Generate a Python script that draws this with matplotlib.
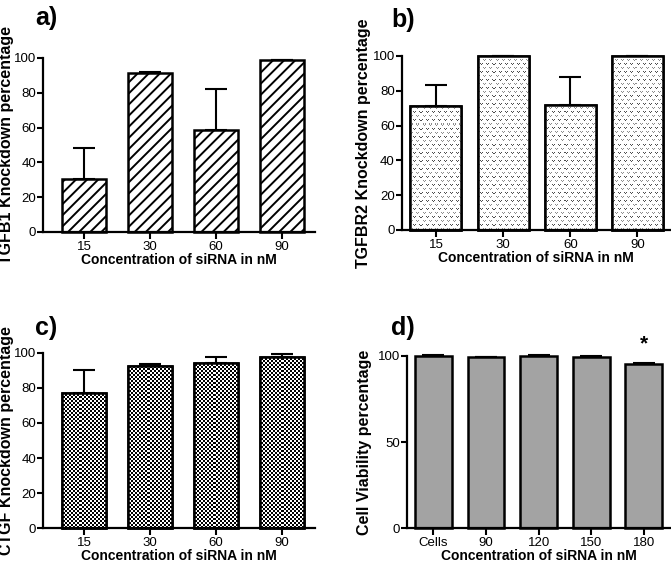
from matplotlib import pyplot as plt
import numpy as np

plt.rcParams['font.family'] = ['Liberation Sans', 'DejaVu Sans']
plt.rcParams['hatch.linewidth'] = 1.4

# data
conc_labels = ['15', '30', '60', '90']
tgfb1_vals = [30.5, 91.5, 58.5, 98.8]
tgfb1_err = [17.8, 0.6, 23.8, 0.3]
tgfbr2_vals = [71.5, 100, 72, 100]
tgfbr2_err = [12, 0, 16, 0]
ctgf_vals = [76.8, 92.4, 94.2, 97.5]
ctgf_err = [13.3, 1.2, 3.2, 1.7]
via_labels = ['Cells', '90', '120', '150', '180']
via_vals = [100, 99.2, 100.2, 99.5, 95.5]
via_err = [0.3, 0.5, 0.3, 0.4, 0.4]

W, H = 671, 565
fig = plt.figure(figsize=(W / 100, H / 100), dpi=100)


def checker_tile(h, w):
    yy, xx = np.mgrid[0:h, 0:w]
    return np.where(((yy // 2) + (xx // 2)) % 2 == 0, 0.0, 1.0)


def dots_tile(h, w):
    img = np.ones((h, w))
    for r in range(0, h - 1, 4):
        off = 0 if (r // 4) % 2 == 0 else 3
        for c in range(off, w - 2, 6):
            shade = 0.3 if (r // 4) % 2 == 0 else 0.55
            img[r, c] = shade
            img[r, c + 2] = shade
            img[r + 1, c + 1] = shade
    return img


def make_axes(rect, xlim, ylim, yticks, labels, ylabel, ylabel_x):
    ax = fig.add_axes(rect)
    ax.set_xlim(*xlim)
    ax.set_ylim(*ylim)
    ax.set_yticks(yticks)
    ax.set_xticks(range(len(labels)))
    ax.set_xticklabels(labels)
    for side in ['top', 'right']:
        ax.spines[side].set_visible(False)
    for side in ['left', 'bottom']:
        ax.spines[side].set_linewidth(1.6)
    ax.tick_params(axis='y', width=1.5, length=4, labelsize=9.5, pad=1)
    ax.tick_params(axis='x', width=1.5, length=5, labelsize=9.5, pad=1.5)
    ax.set_xlabel('Concentration of siRNA in nM', fontsize=10, fontweight='bold', labelpad=0)
    ax.set_ylabel(ylabel, fontsize=11.5, fontweight='bold')
    ax.yaxis.set_label_coords(ylabel_x, 0.5)
    ax.patch.set_alpha(0)
    return ax


def draw_bars(ax, vals, err, width, face='white', hatch=None, pattern=None, rect=None):
    x = np.arange(len(vals))
    ax.errorbar(x, vals, yerr=[np.zeros(len(vals)), err], fmt='none', ecolor='black',
                elinewidth=1.5, capsize=8, capthick=1.5, zorder=1, clip_on=False)
    bars = ax.bar(x, vals, width=width, color=face, edgecolor='black', linewidth=1.8,
                  hatch=hatch, zorder=2, clip_on=False)
    if pattern is not None:
        w_px = int(round(rect[2] * W))
        h_px = int(round(rect[3] * H))
        img = pattern(h_px, w_px)
        x0, x1 = ax.get_xlim()
        y0, y1 = ax.get_ylim()
        for b in bars:
            im = ax.imshow(img, cmap='gray', vmin=0, vmax=1, extent=(x0, x1, y0, y1),
                           interpolation='nearest', aspect='auto', zorder=2.5)
            im.set_clip_path(b)
        # redraw outlines on top of the pattern
        ax.bar(x, vals, width=width, color='none', edgecolor='black', linewidth=1.8,
               zorder=3, clip_on=False)
    return bars


# a) TGFB1
rect_a = [43 / W, 1 - 232 / H, 272 / W, 174 / H]
ax_a = make_axes(rect_a, (-0.62, 3.5), (0, 100), [0, 20, 40, 60, 80, 100], conc_labels,
                 'TGFB1 Knockdown percentage', -0.108)
draw_bars(ax_a, tgfb1_vals, tgfb1_err, 0.67, hatch='///')

# b) TGFBR2
rect_b = [401.7 / W, 1 - 230 / H, 269.3 / W, 174 / H]
ax_b = make_axes(rect_b, (-0.51, 3.5), (0, 100), [0, 20, 40, 60, 80, 100], conc_labels,
                 'TGFBR2 Knockdown percentage', -0.114)
draw_bars(ax_b, tgfbr2_vals, tgfbr2_err, 0.76, pattern=dots_tile, rect=rect_b)

# c) CTGF
rect_c = [43 / W, 1 - 528.3 / H, 272 / W, 175.6 / H]
ax_c = make_axes(rect_c, (-0.62, 3.5), (0, 100), [0, 20, 40, 60, 80, 100], conc_labels,
                 'CTGF Knockdown percentage', -0.108)
draw_bars(ax_c, ctgf_vals, ctgf_err, 0.67, pattern=checker_tile, rect=rect_c)

# d) cell viability
rect_d = [406.7 / W, 1 - 528.3 / H, 264.3 / W, 172.3 / H]
ax_d = make_axes(rect_d, (-0.51, 4.52), (0, 100), [0, 50, 100], via_labels,
                 'Cell Viability percentage', -0.13)
draw_bars(ax_d, via_vals, via_err, 0.7, face='#a3a3a3')
ax_d.text(4, 101.5, '*', ha='center', va='bottom', fontsize=15, fontweight='bold', clip_on=False)

for letter, px, py in [('a)', 35, 6), ('b)', 391, 8), ('c)', 35, 316), ('d)', 391, 316)]:
    fig.text(px / W, 1 - py / H, letter, fontsize=18, fontweight='bold', ha='left', va='top')

fig.savefig('out.png', dpi=100)
